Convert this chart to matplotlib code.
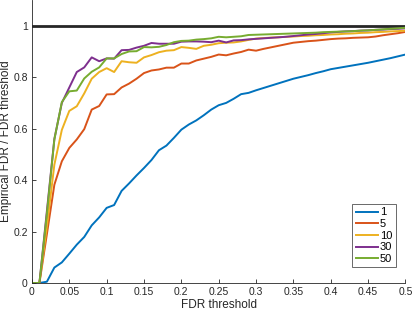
import numpy as np
import matplotlib
matplotlib.use('Agg')
import matplotlib.pyplot as plt

plt.rcParams['font.family'] = ['Liberation Sans', 'DejaVu Sans']

# FDR threshold grid (0 to 0.5, step 0.01)
fdr_threshold = np.linspace(0, 0.5, 51)

labels = ['1', '5', '10', '30', '50']

fdr_1 = [0, 0, 0.005, 0.06, 0.08, 0.114, 0.149, 0.179, 0.224, 0.255,
         0.292, 0.303, 0.358, 0.387, 0.418, 0.447, 0.478, 0.516, 0.534, 0.564,
         0.596, 0.616, 0.632, 0.652, 0.674, 0.691, 0.70, 0.716, 0.734, 0.739,
         0.749, 0.758, 0.767, 0.776, 0.785, 0.794, 0.801, 0.808, 0.816, 0.823,
         0.831, 0.836, 0.841, 0.846, 0.851, 0.856, 0.862, 0.868, 0.874, 0.881,
         0.888]
fdr_5 = [0, 0, 0.19, 0.382, 0.473, 0.525, 0.558, 0.598, 0.674, 0.688,
         0.733, 0.734, 0.76, 0.775, 0.794, 0.816, 0.826, 0.83, 0.837, 0.837,
         0.853, 0.853, 0.865, 0.872, 0.879, 0.888, 0.885, 0.892, 0.898, 0.907,
         0.903, 0.91, 0.916, 0.922, 0.928, 0.934, 0.937, 0.94, 0.942, 0.945,
         0.948, 0.95, 0.951, 0.953, 0.954, 0.955, 0.958, 0.963, 0.967, 0.971,
         0.976]
fdr_10 = [0, 0, 0.22, 0.46, 0.595, 0.669, 0.687, 0.737, 0.794, 0.82,
          0.835, 0.82, 0.862, 0.858, 0.856, 0.877, 0.886, 0.897, 0.903, 0.905,
          0.917, 0.914, 0.91, 0.922, 0.926, 0.932, 0.934, 0.935, 0.939, 0.945,
          0.95, 0.952, 0.954, 0.955, 0.957, 0.958, 0.96, 0.961, 0.963, 0.964,
          0.966, 0.967, 0.969, 0.97, 0.972, 0.973, 0.975, 0.976, 0.978, 0.979,
          0.981]
fdr_30 = [0, 0, 0.28, 0.56, 0.70, 0.76, 0.82, 0.838, 0.877, 0.862,
          0.873, 0.872, 0.905, 0.906, 0.915, 0.922, 0.933, 0.93, 0.93, 0.93,
          0.938, 0.939, 0.939, 0.938, 0.936, 0.942, 0.935, 0.943, 0.944, 0.947,
          0.949, 0.951, 0.953, 0.955, 0.957, 0.96, 0.963, 0.966, 0.968, 0.971,
          0.974, 0.976, 0.978, 0.979, 0.981, 0.982, 0.984, 0.985, 0.987, 0.988,
          0.99]
fdr_50 = [0, 0, 0.27, 0.558, 0.703, 0.745, 0.748, 0.795, 0.821, 0.838,
          0.873, 0.873, 0.89, 0.9, 0.901, 0.917, 0.916, 0.918, 0.925, 0.936,
          0.941, 0.942, 0.946, 0.948, 0.951, 0.957, 0.955, 0.957, 0.959, 0.964,
          0.965, 0.966, 0.967, 0.968, 0.969, 0.97, 0.971, 0.972, 0.973, 0.975,
          0.976, 0.977, 0.978, 0.979, 0.981, 0.982, 0.984, 0.986, 0.988, 0.99,
          0.992]

# colores por defecto de matlab
colors = [(0, 0.447, 0.741), (0.85, 0.325, 0.098), (0.929, 0.694, 0.125),
          (0.494, 0.184, 0.556), (0.466, 0.674, 0.188)]

fig = plt.figure(figsize=(4.15, 3.12), dpi=100)
ax = fig.add_axes([0.077, 0.093, 0.9, 0.907])

axcol = (0.15, 0.15, 0.15)
ax.plot([0, 0.5], [1, 1], color=axcol, lw=2.0)
for serie, lab, c in zip([fdr_1, fdr_5, fdr_10, fdr_30, fdr_50], labels, colors):
    ax.plot(fdr_threshold, serie, color=c, lw=1.4, label=lab)

ax.set_xlim(0, 0.5)
ax.set_ylim(0, 1.1)
ax.set_xticks(np.arange(0, 0.51, 0.05))
ax.set_xticklabels(['0', '0.05', '0.1', '0.15', '0.2', '0.25', '0.3', '0.35', '0.4', '0.45', '0.5'])
ax.set_yticks([0, 0.2, 0.4, 0.6, 0.8, 1])
ax.set_yticklabels(['0', '0.2', '0.4', '0.6', '0.8', '1'])
ax.tick_params(direction='in', length=3, width=0.6, colors=axcol, labelsize=7.5, pad=3)
for s in ['top', 'right']:
    ax.spines[s].set_visible(False)
for s in ['left', 'bottom']:
    ax.spines[s].set_color(axcol)
    ax.spines[s].set_linewidth(0.6)

ax.set_xlabel('FDR threshold', fontsize=8.5, color=axcol, labelpad=1)
ax.set_ylabel('Empirical FDR / FDR threshold', fontsize=8.5, color=axcol, labelpad=1)

handles = ax.get_lines()[1:]
leg = ax.legend(handles, labels, loc='lower right', bbox_to_anchor=(0.974, 0.055),
                fontsize=8, frameon=True, fancybox=False, handlelength=2.0,
                handletextpad=0.2, borderpad=0.3, labelspacing=0.15, borderaxespad=0)
leg.get_frame().set_edgecolor(axcol)
leg.get_frame().set_linewidth(0.6)

plt.savefig('out.png', dpi=100)
